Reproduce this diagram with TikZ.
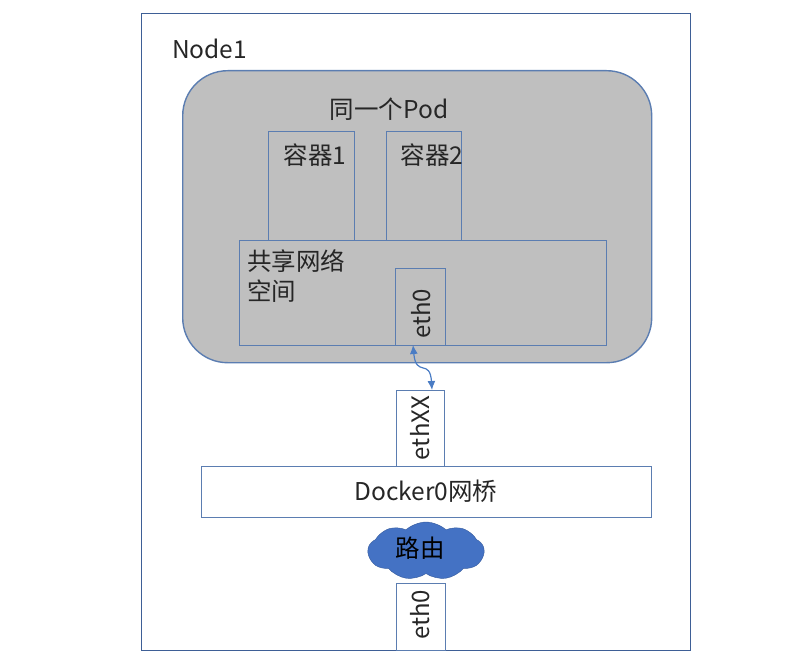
\documentclass[tikz,border=0pt]{standalone}
\usepackage{fontspec}
\setmainfont{Noto Sans CJK SC}
\usetikzlibrary{shapes.symbols, arrows.meta}
\definecolor{edgeblue}{HTML}{5B7DB1}
\definecolor{frameblue}{HTML}{3E5F96}
\definecolor{podgray}{HTML}{BFBFBF}
\definecolor{cloudblue}{HTML}{4472C4}
\definecolor{arrowblue}{HTML}{4A7CC4}
\tikzset{
    boxnode/.style={
        rectangle,
        draw=edgeblue,
        line width=1.4pt,
        anchor=north west,
        inner sep=0
    },
    labelnode/.style={
        inner sep=0,
        text=black!85,
        font=\fontsize{24.5}{30}\selectfont
    },
    sidelabel/.style={
        labelnode,
        font=\fontsize{24}{30}\selectfont,
        rotate=90
    }
}
\begin{document}
\begin{tikzpicture}[x=1pt,y=-1pt]
    \useasboundingbox (0,0) rectangle (798,661);
    % Node1
    \node[boxnode, draw=frameblue, minimum width=549pt, minimum height=637pt] (node1) at (141,13) {};
    \node[labelnode, anchor=west] (node1text) at (172,49) {Node1};
    % Pod
    \node[boxnode, fill=podgray, rounded corners=45pt, minimum width=469pt, minimum height=292pt] (pod) at (182,70) {};
    \node[labelnode] (podtext) at (389,109) {同一个Pod};
    \node[boxnode, minimum width=86pt, minimum height=109pt] (box1) at (268,131) {};
    \node[boxnode, minimum width=75pt, minimum height=109pt] (box2) at (386,131) {};
    \node[labelnode] (box1text) at (315,155) {容器1};
    \node[labelnode] (box2text) at (432,155) {容器2};
    % 共享网络
    \node[boxnode, fill=podgray, minimum width=367pt, minimum height=105pt] (share) at (239,240) {};
    \node[labelnode, anchor=north west, align=left] (sharetext) at (247,249) {共享网络\\空间};
    \node[boxnode, minimum width=50pt, minimum height=77pt] (podeth) at (395,268) {};
    \node[sidelabel] (podethtext) at (421,314) {eth0};
    % 网桥
    \node[boxnode, minimum width=48pt, minimum height=76pt] (ethxx) at (396,390) {};
    \node[sidelabel] (ethxxtext) at (420,428) {ethXX};
    \node[boxnode, minimum width=450pt, minimum height=51pt] (docker) at (201,466) {};
    \node[labelnode] (dockertext) at (426,491) {Docker0网桥};
    % 路由
    \node[cloud, cloud puffs=9, cloud puff arc=85, aspect=2, draw=cloudblue!80!black, fill=cloudblue,
          minimum width=116pt, minimum height=58pt, inner sep=0] (router) at (426,551) {};
    \node[labelnode, text=black] (routertext) at (420,548) {路由};
    \node[boxnode, minimum width=49pt, minimum height=67pt] (hosteth) at (396,583) {};
    \node[sidelabel] (hostethtext) at (420,615) {eth0};
    % veth
    \coordinate (vethtop) at (413,345);
    \coordinate (vethend) at (432,390);
    \draw[{Latex[length=9pt,width=8pt]}-{Latex[length=9pt,width=8pt]}, arrowblue, line width=1.2pt] (vethtop) .. controls (416,378) and (430,358) .. (vethend);
\end{tikzpicture}
\end{document}
